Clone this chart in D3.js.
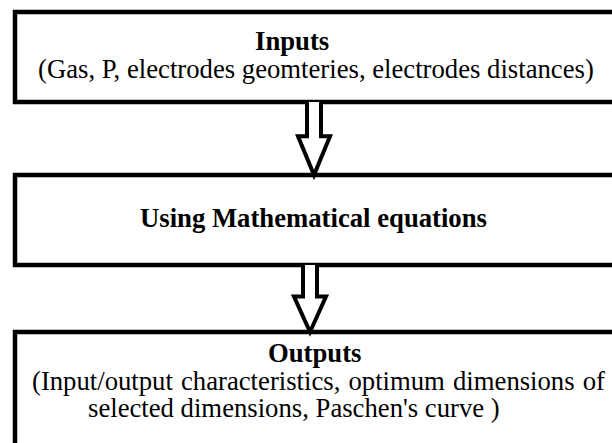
<!DOCTYPE html>
<html>
<head>
<meta charset="utf-8">
<script src="https://cdn.jsdelivr.net/npm/d3@7"></script>
<style>
  html, body { margin: 0; padding: 0; background: #fff; }
  svg { display: block; }
</style>
</head>
<body>
<div id="chart"></div>
<script>
// flowchart content
const steps = ['Inputs', 'Using Mathematical equations', 'Outputs'];
const details = [
  ['(Gas, P, electrodes geomteries, electrodes distances)'],
  [],
  ['(Input/output characteristics, optimum dimensions of', "selected dimensions, Paschen's curve )"]
];

// layout (pixels)
const W = 612, H = 443;
const boxLeft = 15, boxRight = 650;
const boxTop = [12, 175, 332];
const boxBottom = [102, 265, 480];
const titleX = [255, 140, 268];
const titleY = [50, 227, 362];
const detailX = [[38], [], [32, 88]];
const detailY = [[78], [], [390, 417]];
const detailSpacing = [[0], [], [1.5, 0]];
const arrowX = [314, 310];
const shaftW = 14, headW = 32;
const fontSize = 26.7;

const svg = d3.select('#chart').append('svg')
  .attr('width', W)
  .attr('height', H);

svg.append('rect')
  .attr('width', W).attr('height', H)
  .attr('fill', '#fff');

const boxes = svg.selectAll('g.step').data(steps)
  .join('g')
  .attr('class', 'step');

boxes.append('rect')
  .attr('x', boxLeft)
  .attr('y', (d, i) => boxTop[i])
  .attr('width', boxRight - boxLeft)
  .attr('height', (d, i) => boxBottom[i] - boxTop[i])
  .attr('fill', '#fff')
  .attr('stroke', '#000')
  .attr('stroke-width', 4.5);

boxes.append('text')
  .attr('x', (d, i) => titleX[i])
  .attr('y', (d, i) => titleY[i])
  .attr('font-family', '"Liberation Serif", "Times New Roman", serif')
  .attr('font-size', fontSize)
  .attr('font-weight', 'bold')
  .attr('fill', '#000')
  .text(d => d);

boxes.each(function (d, i) {
  d3.select(this).selectAll('text.detail').data(details[i])
    .join('text')
    .attr('class', 'detail')
    .attr('x', (t, j) => detailX[i][j])
    .attr('y', (t, j) => detailY[i][j])
    .attr('word-spacing', (t, j) => detailSpacing[i][j])
    .attr('font-family', '"Liberation Serif", "Times New Roman", serif')
    .attr('font-size', fontSize)
    .attr('fill', '#000')
    .text(t => t);
});

// hollow block arrows between boxes
const arrows = d3.range(steps.length - 1).map(i => {
  const cx = arrowX[i];
  const top = boxBottom[i];
  const tip = boxTop[i + 1];
  const shoulder = top + (tip - top) * 0.47;
  return [
    [cx - shaftW / 2, top],
    [cx - shaftW / 2, shoulder],
    [cx - headW / 2, shoulder],
    [cx, tip],
    [cx + headW / 2, shoulder],
    [cx + shaftW / 2, shoulder],
    [cx + shaftW / 2, top]
  ];
});

svg.selectAll('path.arrow').data(arrows)
  .join('path')
  .attr('class', 'arrow')
  .attr('d', d => d3.line()(d))
  .attr('fill', '#fff')
  .attr('stroke', '#000')
  .attr('stroke-width', 4)
  .attr('stroke-linejoin', 'miter');
</script>
</body>
</html>
